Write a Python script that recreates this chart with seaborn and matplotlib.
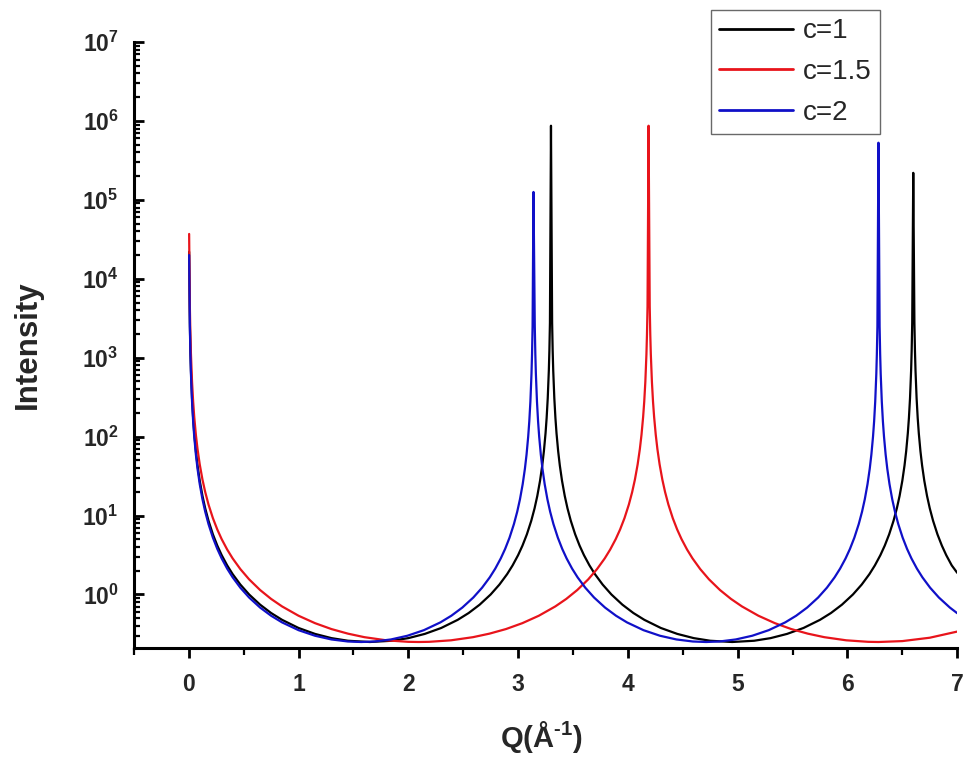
import numpy as np
import pandas as pd
import matplotlib
matplotlib.use("Agg")
import matplotlib.pyplot as plt
from matplotlib.ticker import LogLocator, LogFormatterMathtext, MultipleLocator, NullFormatter
import seaborn as sns

# ---------------- data ----------------
series_labels = ["c=1", "c=1.5", "c=2"]
series_colors = ["#000000", "#e8141b", "#1010c8"]

q_c1 = [0.0035, 0.01, 0.015, 0.02, 0.03, 0.04, 0.05, 0.065, 0.08, 0.1, 0.125, 0.15, 0.18,
        0.22, 0.26, 0.3, 0.35, 0.4, 0.47, 0.55, 0.65, 0.75, 0.85, 1.0, 1.15, 1.3, 1.45, 1.65,
        1.85, 2.0, 2.15, 2.3, 2.45, 2.55, 2.65, 2.75, 2.83, 2.9, 2.95, 3.0, 3.04, 3.08, 3.12,
        3.15, 3.175, 3.2, 3.22, 3.235, 3.25, 3.26, 3.27, 3.28, 3.285, 3.29, 3.2995,
        3.31, 3.315, 3.32, 3.33, 3.34, 3.35, 3.365, 3.38, 3.4, 3.425, 3.45, 3.48, 3.52, 3.56,
        3.6, 3.65, 3.7, 3.77, 3.85, 3.95, 4.05, 4.15, 4.3, 4.45, 4.6, 4.75, 4.95,
        5.15, 5.3, 5.45, 5.6, 5.75, 5.85, 5.95, 6.05, 6.13, 6.2, 6.25, 6.3, 6.34, 6.38, 6.42,
        6.45, 6.475, 6.5, 6.52, 6.535, 6.55, 6.56, 6.57, 6.58, 6.585, 6.59, 6.5995,
        6.61, 6.615, 6.62, 6.63, 6.64, 6.65, 6.665, 6.68, 6.7, 6.725, 6.75, 6.78, 6.82, 6.86,
        6.9, 6.95, 7.0]
i_c1 = [2.2e4, 2758, 1226, 689.5, 306.5, 172.5, 110.4, 65.37, 43.18, 27.67, 17.74, 12.34,
        8.598, 5.783, 4.165, 3.149, 2.337, 1.810, 1.336, 1.0, 0.7431, 0.5826, 0.4773, 0.3765,
        0.3166, 0.2799, 0.2593, 0.25,
        0.2593, 0.2799, 0.3166, 0.3765, 0.4773, 0.5826, 0.7431, 1.0, 1.336, 1.810, 2.337,
        3.149, 4.165, 5.783, 8.598, 12.34, 17.74, 27.67, 43.18, 65.37, 110.4, 172.5, 306.5,
        689.5, 1226, 2758, 8.7e5,
        2758, 1226, 689.5, 306.5, 172.5, 110.4, 65.37, 43.18, 27.67, 17.74, 12.34, 8.598,
        5.783, 4.165, 3.149, 2.337, 1.810, 1.336, 1.0, 0.7431, 0.5826, 0.4773, 0.3765, 0.3166,
        0.2799, 0.2593, 0.25,
        0.2593, 0.2799, 0.3166, 0.3765, 0.4773, 0.5826, 0.7431, 1.0, 1.336, 1.810, 2.337,
        3.149, 4.165, 5.783, 8.598, 12.34, 17.74, 27.67, 43.18, 65.37, 110.4, 172.5, 306.5,
        689.5, 1226, 2758, 2.2e5,
        2758, 1226, 689.5, 306.5, 172.5, 110.4, 65.37, 43.18, 27.67, 17.74, 12.34, 8.598,
        5.783, 4.165, 3.149, 2.337, 1.88]

q_c15 = [0.0035, 0.01, 0.015, 0.02, 0.03, 0.04, 0.05, 0.065, 0.08, 0.1, 0.125, 0.15, 0.18,
         0.22, 0.26, 0.3, 0.35, 0.4, 0.47, 0.55, 0.65, 0.75, 0.85, 1.0, 1.15, 1.3, 1.45, 1.6,
         1.8, 2.0, 2.094,
         2.189, 2.389, 2.589, 2.739, 2.889, 3.039, 3.189, 3.339, 3.439, 3.539, 3.639, 3.719,
         3.789, 3.839, 3.889, 3.929, 3.969, 4.009, 4.039, 4.064, 4.089, 4.109, 4.124, 4.139,
         4.149, 4.159, 4.169, 4.174, 4.179, 4.1885,
         4.199, 4.204, 4.209, 4.219, 4.229, 4.239, 4.254, 4.269, 4.289, 4.314, 4.339, 4.369,
         4.409, 4.449, 4.489, 4.539, 4.589, 4.659, 4.739, 4.839, 4.939, 5.039, 5.189, 5.339,
         5.489, 5.639, 5.789, 5.989, 6.189, 6.283, 6.5, 6.75, 7.0]
i_c15 = [3.7e4, 4444, 1975, 1111, 493.8, 277.9, 177.9, 105.3, 69.53, 44.53, 28.53, 19.84,
         13.80, 9.266, 6.659, 5.022, 3.713, 2.863, 2.098, 1.555, 1.139, 0.8790, 0.7060,
         0.5381, 0.4332, 0.3645, 0.3190, 0.2878, 0.2626, 0.2513, 0.25,
         0.2513, 0.2626, 0.2878, 0.3190, 0.3645, 0.4332, 0.5381, 0.7060, 0.8790, 1.139,
         1.555, 2.098, 2.863, 3.713, 5.022, 6.659, 9.266, 13.80, 19.84, 28.53, 44.53, 69.53,
         105.3, 177.9, 277.9, 493.8, 1111, 1975, 4444, 8.7e5,
         4444, 1975, 1111, 493.8, 277.9, 177.9, 105.3, 69.53, 44.53, 28.53, 19.84, 13.80,
         9.266, 6.659, 5.022, 3.713, 2.863, 2.098, 1.555, 1.139, 0.8790, 0.7060, 0.5381,
         0.4332, 0.3645, 0.3190, 0.2878, 0.2626, 0.2513, 0.25, 0.2567, 0.2832, 0.3389]

q_c2 = [0.0035, 0.01, 0.015, 0.02, 0.03, 0.04, 0.05, 0.065, 0.08, 0.1, 0.125, 0.15, 0.18,
        0.22, 0.26, 0.3, 0.35, 0.4, 0.47, 0.55, 0.65, 0.75, 0.85, 1.0, 1.15, 1.3, 1.45, 1.571,
        1.692, 1.842, 1.992, 2.142, 2.292, 2.392, 2.492, 2.592, 2.672, 2.742, 2.792, 2.842,
        2.882, 2.922, 2.962, 2.992, 3.017, 3.042, 3.062, 3.077, 3.092, 3.102, 3.112, 3.122,
        3.127, 3.132, 3.1402,
        3.152, 3.157, 3.162, 3.172, 3.182, 3.192, 3.207, 3.222, 3.242, 3.267, 3.292, 3.322,
        3.362, 3.402, 3.442, 3.492, 3.542, 3.612, 3.692, 3.792, 3.892, 3.992, 4.142, 4.292,
        4.442, 4.592, 4.712,
        4.833, 4.983, 5.133, 5.283, 5.433, 5.533, 5.633, 5.733, 5.813, 5.883, 5.933, 5.983,
        6.023, 6.063, 6.103, 6.133, 6.158, 6.183, 6.203, 6.218, 6.233, 6.243, 6.253, 6.263,
        6.268, 6.273, 6.2825,
        6.293, 6.298, 6.303, 6.313, 6.323, 6.333, 6.348, 6.363, 6.383, 6.408, 6.433, 6.463,
        6.503, 6.543, 6.583, 6.633, 6.683, 6.753, 6.833, 6.933, 7.0]
i_c2 = [2.0e4, 2500, 1111, 625, 277.9, 156.3, 100.1, 59.26, 39.15, 25.08, 16.08, 11.19,
        7.800, 5.249, 3.783, 2.863, 2.126, 1.649, 1.219, 0.9150, 0.6826, 0.5381, 0.4429,
        0.3531, 0.3001, 0.2693, 0.2537, 0.25,
        0.2537, 0.2693, 0.3001, 0.3531, 0.4429, 0.5381, 0.6826, 0.9150, 1.219, 1.649, 2.126,
        2.863, 3.783, 5.249, 7.800, 11.19, 16.08, 25.08, 39.15, 59.26, 100.1, 156.3, 277.9,
        625, 1111, 2500, 1.26e5,
        2500, 1111, 625, 277.9, 156.3, 100.1, 59.26, 39.15, 25.08, 16.08, 11.19, 7.800,
        5.249, 3.783, 2.863, 2.126, 1.649, 1.219, 0.9150, 0.6826, 0.5381, 0.4429, 0.3531,
        0.3001, 0.2693, 0.2537, 0.25,
        0.2537, 0.2693, 0.3001, 0.3531, 0.4429, 0.5381, 0.6826, 0.9150, 1.219, 1.649, 2.126,
        2.863, 3.783, 5.249, 7.800, 11.19, 16.08, 25.08, 39.15, 59.26, 100.1, 156.3, 277.9,
        625, 1111, 2500, 5.3e5,
        2500, 1111, 625, 277.9, 156.3, 100.1, 59.26, 39.15, 25.08, 16.08, 11.19, 7.800,
        5.249, 3.783, 2.863, 2.126, 1.649, 1.219, 0.9150, 0.6826, 0.5792]

x_ticks = [0, 1, 2, 3, 4, 5, 6, 7]
y_ticks = [1e0, 1e1, 1e2, 1e3, 1e4, 1e5, 1e6, 1e7]

# ---------------- build table ----------------
frames = []
for lab, q, i in zip(series_labels, [q_c1, q_c15, q_c2], [i_c1, i_c15, i_c2]):
    frames.append(pd.DataFrame({"Q": q, "Intensity": i, "series": lab}))
df = pd.concat(frames, ignore_index=True)

# ---------------- style ----------------
sns.set_theme(style="ticks")
plt.rcParams["font.family"] = ["Liberation Sans", "DejaVu Sans"]
plt.rcParams["mathtext.fontset"] = "custom"
plt.rcParams["mathtext.rm"] = "Liberation Sans:bold"
plt.rcParams["mathtext.it"] = "Liberation Sans:bold"
plt.rcParams["mathtext.bf"] = "Liberation Sans:bold"
plt.rcParams["mathtext.default"] = "rm"

fig = plt.figure(figsize=(9.63, 7.6), dpi=100)
ax = fig.add_axes([0.139, 0.1474, 0.855, 0.7973])

sns.lineplot(data=df, x="Q", y="Intensity", hue="series", hue_order=series_labels,
             palette=series_colors, estimator=None, sort=False, linewidth=1.6, ax=ax)

ax.set_yscale("log")
ax.set_xlim(-0.5, 7)
ax.set_ylim(0.21, 1e7)

ax.set_xticks(x_ticks)
ax.xaxis.set_minor_locator(MultipleLocator(0.5))
ax.set_yticks(y_ticks)
ax.yaxis.set_major_formatter(LogFormatterMathtext())
ax.yaxis.set_minor_locator(LogLocator(base=10, subs=np.arange(2, 10) * 1.0, numticks=50))
ax.yaxis.set_minor_formatter(NullFormatter())

for s in ["top", "right"]:
    ax.spines[s].set_visible(False)
for s in ["left", "bottom"]:
    ax.spines[s].set_linewidth(2.2)
    ax.spines[s].set_color("black")

ax.tick_params(axis="x", which="major", direction="out", length=7, width=2.0,
               color="black", labelsize=16.5, pad=11)
ax.tick_params(axis="x", which="minor", direction="out", length=5, width=1.6, color="black")
ax.tick_params(axis="y", which="major", direction="in", length=7.5, width=2.0,
               color="black", labelsize=16.5, pad=11)
ax.tick_params(axis="y", which="minor", direction="in", length=4.5, width=1.6, color="black")
for lab in ax.get_xticklabels() + ax.get_yticklabels():
    lab.set_fontweight("bold")

ax.set_xlabel("Q(Å$^{\u20101}$)", fontsize=21, fontweight="bold")
ax.set_ylabel("Intensity", fontsize=22.5, fontweight="bold")
ax.xaxis.set_label_coords(0.495, -0.117)
ax.yaxis.set_label_coords(-0.111, 0.5)

handles, labels = ax.get_legend_handles_labels()
leg = ax.legend(handles, labels, loc="upper right", bbox_to_anchor=(0.9138, 0.9868),
                bbox_transform=fig.transFigure, fontsize=20, frameon=True, fancybox=False,
                edgecolor="#444444", handlelength=2.66, handletextpad=0.36,
                borderpad=0.3, labelspacing=0.53, borderaxespad=0)
leg.get_frame().set_linewidth(1.0)
for line in leg.get_lines():
    line.set_linewidth(2.0)

fig.savefig("out.png", dpi=100, facecolor="white")
